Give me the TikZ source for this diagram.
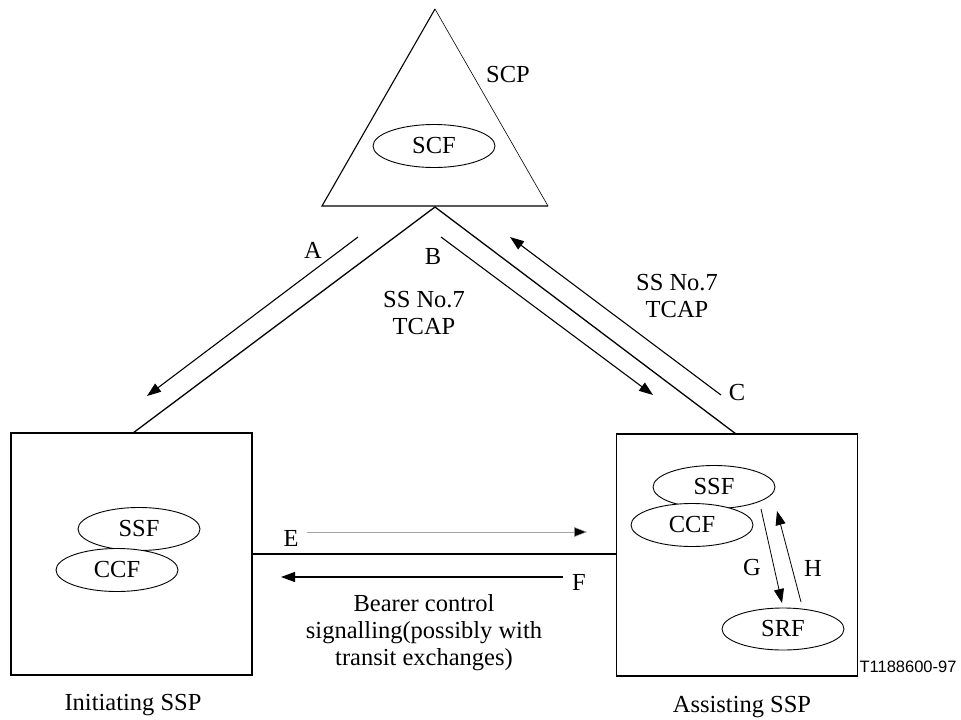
\documentclass[tikz,border=0pt]{standalone}
\usepackage{fontspec}
\setmainfont{Liberation Serif}
\newfontfamily\labelsans{Liberation Sans}
\usetikzlibrary{shapes.geometric,arrows.meta}
\begin{document}
\begin{tikzpicture}[x=1pt,y=-1pt,
  every node/.style={font=\fontsize{24.5}{27}\selectfont, inner sep=0pt},
  fn/.style={draw, line width=0.9pt, ellipse, minimum width=122pt, minimum height=43pt},
  ssp/.style={draw, line width=1.1pt, minimum width=241pt, minimum height=242pt},
  link/.style={line width=1.3pt},
  arr/.style={line width=1.1pt, -{Triangle[length=14pt,width=10pt]}},
  thinarr/.style={line width=0.5pt, draw=black!35, -{Triangle[length=13pt,width=10pt,fill=black]}},
  txt/.style={align=center}]
\useasboundingbox (0,0) rectangle (961,720);
% SCP triangle
\coordinate (apex) at (435,9);
\coordinate (bl) at (322,206);
\coordinate (br) at (548,206);
\draw[line width=1.1pt] (br) -- (bl) -- (apex);
\draw[line width=0.6pt] (apex) -- (br);
\node (scp) at (508,75) {SCP};
\node[fn] (scf) at (434,146) {SCF};
% SSP boxes
\node[ssp] (lssp) at (131.5,554) {};
\node[ssp] (rssp) at (737,555) {};
\node (lname) at (133,705) {Initiating SSP};
\node (rname) at (742,707) {Assisting SSP};
\node[font=\labelsans\fontsize{16.5}{18}\selectfont] (tag) at (908,667) {T1188600-97};
% functional entities
\node[fn] (lssf) at (139,529) {SSF};
\node[fn, fill=white] (lccf) at (117,570) {CCF};
\node[fn] (rssf) at (714,487) {SSF};
\node[fn, fill=white] (rccf) at (692,525) {CCF};
\node[fn, minimum height=42pt] (srf) at (783,629) {SRF};
% SS No.7 links
\coordinate (v) at (435,207);
\coordinate (lt) at (133,433);
\coordinate (rt) at (736,434);
\draw[link] (lt) -- (v) -- (rt);
\coordinate (a1) at (358,237);
\coordinate (a2) at (147,396);
\coordinate (b1) at (441,237);
\coordinate (b2) at (653,395);
\coordinate (c1) at (721,395);
\coordinate (c2) at (510,237);
\draw[arr] (a1) -- (a2);
\draw[arr] (b1) -- (b2);
\draw[arr] (c1) -- (c2);
\node (la) at (313,250) {A};
\node (lb) at (433,257) {B};
\node (lc) at (737,393) {C};
\node[txt] (tc1) at (424,313) {SS No.7\\TCAP};
\node[txt] (tc2) at (677,296) {SS No.7\\TCAP};
% bearer control
\draw[link] (lssp.east) -- (lssp.east -| rssp.west);
\coordinate (e1) at (307,532);
\coordinate (e2) at (587,532);
\coordinate (f1) at (563,577);
\coordinate (f2) at (281,577);
\draw[thinarr] (e1) -- (e2);
\draw[arr] (f1) -- (f2);
\node (le) at (291,538) {E};
\node (lf) at (579,582) {F};
\node[txt] (bc) at (424,633) {Bearer control\\signalling(possibly with\\transit exchanges)};
% G / H
\coordinate (g1) at (761,509);
\coordinate (g2) at (782,603);
\coordinate (h1) at (801,602);
\coordinate (h2) at (777,511);
\draw[line width=0.8pt, -{Triangle[length=14pt,width=10pt]}] (g1) -- (g2);
\draw[line width=0.8pt, -{Triangle[length=14pt,width=10pt]}] (h1) -- (h2);
\node (lg) at (752,568) {G};
\node (lh) at (813,568) {H};
\end{tikzpicture}
\end{document}
